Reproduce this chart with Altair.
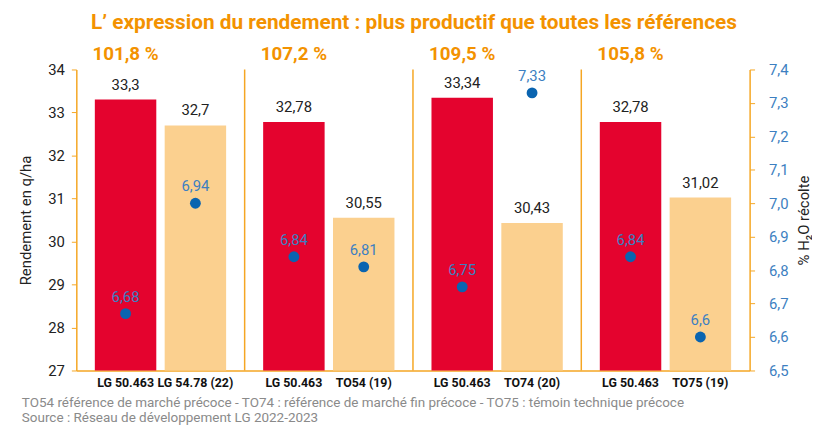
import altair as alt
import pandas as pd

# ---- data ----
groups = ["G1", "G1", "G2", "G2", "G3", "G3", "G4", "G4"]
kinds = ["a", "b", "a", "b", "a", "b", "a", "b"]
varieties = ["LG 50.463", "LG 54.78 (22)", "LG 50.463", "TO54 (19)",
             "LG 50.463", "TO74 (20)", "LG 50.463", "TO75 (19)"]
yields = [33.3, 32.7, 32.78, 30.55, 33.34, 30.43, 32.78, 31.02]
# dot positions as drawn in the picture, and the labels printed beside them
humidity = [6.67, 7.0, 6.84, 6.81, 6.75, 7.33, 6.84, 6.6]
hum_labels = ["6,68", "6,94", "6,84", "6,81", "6,75", "7,33", "6,84", "6,6"]
pct_groups = ["G1", "G2", "G3", "G4"]
pct_labels = ["101,8 %", "107,2 %", "109,5 %", "105,8 %"]
sep_groups = ["G2", "G3", "G4"]
left_ticks = [27, 28, 29, 30, 31, 32, 33, 34]
right_ticks = [6.5, 6.6, 6.7, 6.8, 6.9, 7.0, 7.1, 7.2, 7.3, 7.4]

title_text = "L’ expression du rendement : plus productif que toutes les références"
foot1 = "TO54 référence de marché précoce - TO74 : référence de marché fin précoce - TO75 : témoin technique précoce"
foot2 = "Source : Réseau de développement LG 2022-2023"

RED = "#E4032E"
LIGHT = "#FBD08F"
BLUE = "#0A64B0"
BLUE_T = "#3D7FC1"
ORANGE = "#F39200"
AXIS_OR = "#F5A623"
FONT = "Roboto"

W, H = 680, 304

df = pd.DataFrame({
    "grp": groups, "kind": kinds, "variety": varieties,
    "yield": yields, "hum": humidity, "hlab": hum_labels,
})
df["ylab"] = [f"{v:g}".replace(".", ",") for v in yields]

pdf = pd.DataFrame({"grp": pct_groups, "kind": ["a"] * 4, "lab": pct_labels})
sdf = pd.DataFrame({"grp": sep_groups})

xscale = alt.Scale(paddingInner=0, paddingOuter=0)
xaxis = alt.Axis(labels=False, ticks=False, title=None,
                 domainColor=AXIS_OR, domainWidth=1.5)
xenc = alt.X("grp:N", sort=pct_groups, scale=xscale, axis=xaxis)
xoff = alt.XOffset("kind:N", sort=["a", "b"],
                   scale=alt.Scale(paddingInner=0.12, paddingOuter=0.265))

yscale = alt.Scale(domain=[27, 34], nice=False, zero=False)
yaxis = alt.Axis(values=left_ticks, grid=False,
                 domainColor=AXIS_OR, domainWidth=1.5, tickColor=AXIS_OR,
                 tickSize=5, labelColor="#222", labelFont=FONT,
                 labelFontSize=15, labelPadding=7,
                 title="Rendement en q/ha", titleFont=FONT,
                 titleFontSize=15, titleFontWeight="normal", titleColor="#222",
                 titlePadding=14)

base = alt.Chart(df)

bars = base.mark_bar().encode(
    x=xenc, xOffset=xoff,
    y=alt.Y("yield:Q", scale=yscale, axis=yaxis),
    y2=alt.datum(27),
    color=alt.Color("kind:N", scale=alt.Scale(domain=["a", "b"], range=[RED, LIGHT]),
                    legend=None),
)

bar_labels = base.mark_text(dy=-15, baseline="middle", font=FONT,
                            fontSize=15, color="#222").encode(
    x=xenc, xOffset=xoff,
    y=alt.Y("yield:Q", scale=yscale, axis=yaxis),
    text="ylab:N",
)

x_labels = base.mark_text(baseline="middle", font=FONT, fontSize=12.5,
                          fontWeight="bold", color="#111").encode(
    x=xenc, xOffset=xoff,
    y=alt.value(H + 13),
    text="variety:N",
)

pct_text = alt.Chart(pdf).mark_text(baseline="middle", font=FONT, fontSize=19,
                                    fontWeight="bold", color=ORANGE).encode(
    x=xenc, xOffset=xoff,
    y=alt.value(-16),
    text="lab:N",
)

seps = alt.Chart(sdf).mark_rule(color=AXIS_OR, strokeWidth=1.5).encode(
    x=alt.X("grp:N", sort=pct_groups, bandPosition=0, scale=xscale, axis=xaxis),
    y=alt.value(0), y2=alt.value(H),
)

one = pd.DataFrame({"t": [0]})
title_mark = alt.Chart(one).mark_text(
    text=title_text, baseline="middle", align="center", font=FONT,
    fontSize=21, fontWeight="bold", color=ORANGE,
).encode(x=alt.value(341), y=alt.value(-47))

foot_mark1 = alt.Chart(one).mark_text(
    text=foot1, baseline="middle", align="left", font=FONT,
    fontSize=13.6, color="#8a8a8a",
).encode(x=alt.value(-55), y=alt.value(H + 33))

foot_mark2 = alt.Chart(one).mark_text(
    text=foot2, baseline="middle", align="left", font=FONT,
    fontSize=13.6, color="#8a8a8a",
).encode(x=alt.value(-55), y=alt.value(H + 48))

left = alt.layer(bars, bar_labels, x_labels, pct_text, seps,
                 title_mark, foot_mark1, foot_mark2)

hscale = alt.Scale(domain=[6.5, 7.4], nice=False, zero=False)
haxis = alt.Axis(orient="right", values=right_ticks,
                 labelExpr="replace(format(datum.value, '.1f'), '.', ',')",
                 grid=False, domainColor=AXIS_OR, domainWidth=1.5,
                 tickColor=AXIS_OR, tickSize=5, labelColor=BLUE_T,
                 labelFont=FONT, labelFontSize=15, labelPadding=14,
                 title="% H₂O récolte", titleFont=FONT, titleFontSize=15,
                 titleFontWeight="normal", titleColor="#222", titleAngle=270,
                 titlePadding=24)

dots = base.mark_point(filled=True, size=120, opacity=1, color=BLUE).encode(
    x=xenc, xOffset=xoff,
    y=alt.Y("hum:Q", scale=hscale, axis=haxis),
)

dot_labels = base.mark_text(dy=-17, baseline="middle", font=FONT,
                            fontSize=15, color=BLUE_T).encode(
    x=xenc, xOffset=xoff,
    y=alt.Y("hum:Q", scale=hscale, axis=haxis),
    text="hlab:N",
)

right = alt.layer(dots, dot_labels)

chart = alt.layer(left, right).resolve_scale(y="independent").properties(
    width=W, height=H,
    autosize=alt.AutoSizeParams(type="none"),
    padding={"left": 69, "top": 60, "right": 63, "bottom": 56},
).configure_view(stroke=None)

chart.save("out.html", embed_options={"renderer": "svg", "actions": False})
